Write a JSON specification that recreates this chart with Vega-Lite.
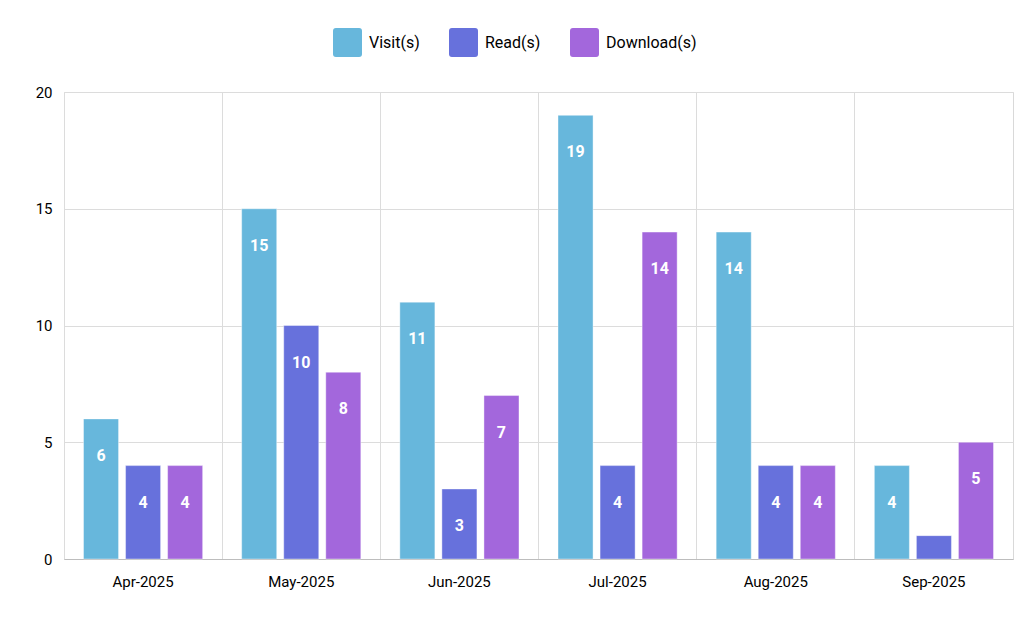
{
  "$schema": "https://vega.github.io/schema/vega-lite/v6.json",
  "autosize": {"type": "none"},
  "width": 949,
  "height": 467,
  "padding": {"left": 64, "top": 92, "right": 19, "bottom": 74},
  "background": "#ffffff",
  "config": {
    "font": "Roboto",
    "view": {"stroke": "#d9d9d9", "strokeWidth": 1},
    "axis": {"labelFont": "Roboto", "labelColor": "#000000", "labelFontSize": 15, "gridColor": "#dcdcdc", "gridOpacity": 1}
  },
  "data": {
    "values": [
      {"month": "Apr-2025", "series": "Visit(s)", "value": 6},
      {"month": "Apr-2025", "series": "Read(s)", "value": 4},
      {"month": "Apr-2025", "series": "Download(s)", "value": 4},
      {"month": "May-2025", "series": "Visit(s)", "value": 15},
      {"month": "May-2025", "series": "Read(s)", "value": 10},
      {"month": "May-2025", "series": "Download(s)", "value": 8},
      {"month": "Jun-2025", "series": "Visit(s)", "value": 11},
      {"month": "Jun-2025", "series": "Read(s)", "value": 3},
      {"month": "Jun-2025", "series": "Download(s)", "value": 7},
      {"month": "Jul-2025", "series": "Visit(s)", "value": 19},
      {"month": "Jul-2025", "series": "Read(s)", "value": 4},
      {"month": "Jul-2025", "series": "Download(s)", "value": 14},
      {"month": "Aug-2025", "series": "Visit(s)", "value": 14},
      {"month": "Aug-2025", "series": "Read(s)", "value": 4},
      {"month": "Aug-2025", "series": "Download(s)", "value": 4},
      {"month": "Sep-2025", "series": "Visit(s)", "value": 4},
      {"month": "Sep-2025", "series": "Read(s)", "value": 1},
      {"month": "Sep-2025", "series": "Download(s)", "value": 5}
    ]
  },
  "encoding": {
    "x": {
      "field": "month", "type": "nominal", "sort": null,
      "scale": {"paddingInner": 0, "paddingOuter": 0},
      "axis": {"title": null, "labelAngle": 0, "bandPosition": 0, "grid": true, "ticks": false, "domain": true, "domainColor": "#bdbdbd", "labelPadding": 15, "labelAlign": "center", "labelOffset": 0}
    },
    "xOffset": {
      "field": "series", "type": "nominal", "sort": ["Visit(s)", "Read(s)", "Download(s)"],
      "scale": {"paddingInner": 0.1667, "paddingOuter": 0.464}
    },
    "y": {
      "field": "value", "type": "quantitative",
      "scale": {"domain": [0, 20], "nice": false},
      "axis": {"title": null, "values": [0, 5, 10, 15, 20], "ticks": false, "domain": false, "labelPadding": 12, "grid": true}
    }
  },
  "layer": [
    {
      "mark": {"type": "bar", "stroke": "#ffffff", "strokeOpacity": 0.4, "strokeWidth": 1},
      "encoding": {
        "color": {
          "field": "series", "type": "nominal",
          "sort": ["Visit(s)", "Read(s)", "Download(s)"],
          "scale": {"domain": ["Visit(s)", "Read(s)", "Download(s)"], "range": ["#67b7dc", "#6771dc", "#a367dc"]},
          "legend": {
            "title": null, "orient": "none", "direction": "horizontal",
            "legendX": 269, "legendY": -64,
            "symbolType": "M-0.8,-1L0.8,-1Q1,-1,1,-0.8L1,0.8Q1,1,0.8,1L-0.8,1Q-1,1,-1,0.8L-1,-0.8Q-1,-1,-0.8,-1Z",
            "symbolSize": 841, "symbolOpacity": 1, "symbolStrokeWidth": 0,
            "labelFont": "Roboto", "labelFontSize": 16, "labelColor": "#000000", "labelOffset": 7,
            "columnPadding": 29
          }
        }
      }
    },
    {
      "transform": [{"filter": "datum.value > 1"}],
      "mark": {"type": "text", "color": "#ffffff", "fontWeight": "bold", "fontSize": 16, "baseline": "middle", "dy": 37, "font": "Roboto"},
      "encoding": {"text": {"field": "value", "type": "quantitative"}}
    }
  ]
}
